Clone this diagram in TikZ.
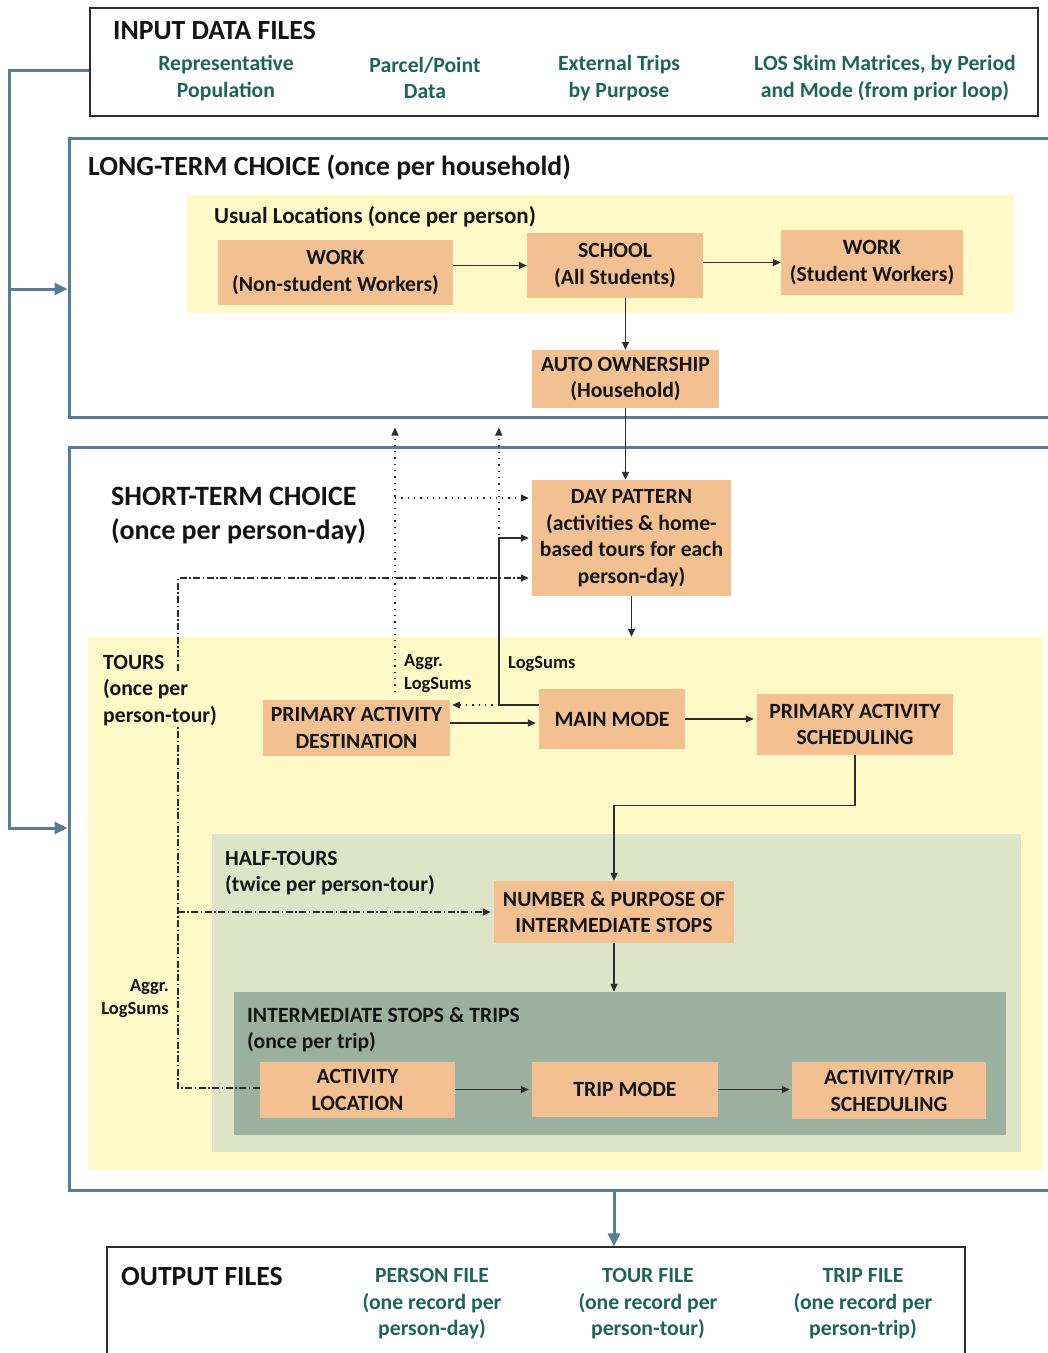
\documentclass[tikz,border=0pt]{standalone}
\usepackage{fontspec}
\setmainfont{Carlito}
\usetikzlibrary{arrows.meta,calc}
\definecolor{obox}{RGB}{243,192,145}
\definecolor{ybg}{RGB}{255,249,200}
\definecolor{hgreen}{RGB}{221,228,200}
\definecolor{igreen}{RGB}{155,176,158}
\definecolor{steel}{RGB}{88,125,148}
\definecolor{tealtxt}{RGB}{30,100,88}
\definecolor{txt}{RGB}{20,20,20}
\definecolor{lgray}{RGB}{45,45,45}
\begin{document}
\begin{tikzpicture}[x=1pt,y=-1pt,
  box/.style={fill=obox, inner sep=0pt, align=center, text=txt, font=\bfseries\fontsize{21.7}{26.5}\selectfont},
  region/.style={inner sep=0pt},
  ttl/.style={anchor=west, inner sep=0pt, text=txt, font=\bfseries\fontsize{27.7}{34}\selectfont},
  rtl/.style={anchor=north west, inner sep=0pt, align=left, text=txt, font=\bfseries\fontsize{21.7}{26.5}\selectfont},
  file/.style={inner sep=0pt, align=center, text=tealtxt, font=\bfseries\fontsize{21.7}{26.5}\selectfont},
  lbl/.style={inner sep=0pt, text=txt, font=\bfseries\fontsize{18.5}{23}\selectfont},
  arr/.style={draw=lgray, line width=1.4pt, -{Triangle[length=8pt,width=7pt]}},
  dotarr/.style={arr, dash pattern=on 1.3pt off 5pt},
  ddarr/.style={arr, dash pattern=on 7pt off 2.5pt on 1.5pt off 2.5pt},
  bluearr/.style={draw=steel, line width=3pt, -{Triangle[length=13pt,width=12pt]}},
  bigbox/.style={draw=steel, line width=3pt, inner sep=0pt},
  filebox/.style={draw=lgray, line width=1.2pt, fill=white, inner sep=0pt}
]
\useasboundingbox (0,0) rectangle (1048,1353);
\clip (0,0) rectangle (1048,1353);
\fill[white] (0,0) rectangle (1048,1353);

% ---------- input files ----------
\node[filebox, minimum width=948, minimum height=108] (inp) at (564,62) {};
\node[ttl] (inpt) at (113,31) {INPUT DATA FILES};
\node[file] (f1) at (226,78) {Representative\\Population};
\node[file] (f2) at (425,78) {Parcel/Point\\Data};
\node[file] (f3) at (619,78) {External Trips\\by Purpose};
\node[file] (f4) at (885,78) {LOS Skim Matrices, by Period\\and Mode (from prior loop)};

% ---------- long-term ----------
\node[bigbox, minimum width=1001, minimum height=279] (lt) at (569.5,277.5) {};
\node[ttl] (ltt) at (88,167) {LONG-TERM CHOICE (once per household)};
\node[region, fill=ybg, minimum width=827, minimum height=118] (ul) at (600.5,254) {};
\node[anchor=west, inner sep=0pt, text=txt, font=\bfseries\fontsize{23}{26}\selectfont] (ult) at (214,217) {Usual Locations (once per person)};
\node[box, minimum width=235, minimum height=65] (w1) at (335.5,272.5) {WORK\\(Non-student Workers)};
\node[box, minimum width=176, minimum height=65] (sch) at (615,265.5) {SCHOOL\\(All Students)};
\node[box, minimum width=182, minimum height=65] (w2) at (872,262.5) {WORK\\(Student Workers)};
\node[box, minimum width=187, minimum height=58] (auto) at (625.5,379) {AUTO OWNERSHIP\\(Household)};

% ---------- short-term ----------
\node[bigbox, minimum width=1001, minimum height=743] (st) at (569.5,818.5) {};
\node[anchor=north west, inner sep=0pt, align=left, text=txt, font=\bfseries\fontsize{28}{34}\selectfont] (stt) at (111,487) {SHORT-TERM CHOICE\\(once per person-day)};
\node[box, minimum width=199, minimum height=116] (day) at (631.5,538) {DAY PATTERN\\(activities \& home-\\based tours for each\\person-day)};

\node[region, fill=ybg, minimum width=955, minimum height=533] (tours) at (565.5,903.5) {};
\node[region, fill=hgreen, minimum width=809, minimum height=318] (half) at (616.5,993) {};
\node[rtl] (halft) at (225,851) {HALF-TOURS\\(twice per person-tour)};
\node[region, fill=igreen, minimum width=772, minimum height=143] (isr) at (620,1063.5) {};
\node[rtl] (isrt) at (247,1007) {INTERMEDIATE STOPS \& TRIPS\\(once per trip)};

\node[box, minimum width=187, minimum height=56] (pad) at (356.5,728) {PRIMARY ACTIVITY\\DESTINATION};
\node[box, minimum width=146, minimum height=60] (mm) at (612,719) {MAIN MODE};
\node[box, minimum width=196, minimum height=61] (pas) at (855,724.5) {PRIMARY ACTIVITY\\SCHEDULING};
\node[box, minimum width=240, minimum height=62] (nps) at (614,912) {NUMBER \& PURPOSE OF\\INTERMEDIATE STOPS};
\node[box, minimum width=195, minimum height=56] (al) at (357.5,1090) {ACTIVITY\\LOCATION};
\node[box, minimum width=186, minimum height=55] (tm) at (625,1089.5) {TRIP MODE};
\node[box, minimum width=194, minimum height=57] (ats) at (889,1090.5) {ACTIVITY/TRIP\\SCHEDULING};

% ---------- output files ----------
\node[filebox, minimum width=858, minimum height=140] (out) at (536,1317) {};
\node[ttl] (outt) at (121,1277) {OUTPUT FILES};
\node[file] (o1) at (432,1304) {PERSON FILE\\(one record per\\person-day)};
\node[file] (o2) at (648,1304) {TOUR FILE\\(one record per\\person-tour)};
\node[file] (o3) at (863,1304) {TRIP FILE\\(one record per\\person-trip)};

% ---------- labels ----------
\node[lbl, anchor=west, align=left] (ag1) at (404,674) {Aggr.\\LogSums};
\node[lbl, anchor=west] (lsl) at (508,664) {LogSums};
\node[lbl, anchor=east, align=right] (ag2) at (169,999) {Aggr.\\LogSums};

% ---------- blue connectors ----------
\draw[bluearr] ($(inp.west)+(0,8)$) -- ++(-80,0) |- ($(st.west)+(0,9.5)$);
\coordinate (fbx) at (10,289);
\draw[bluearr] (fbx) -- (fbx-|lt.west);
\coordinate (oa) at ($(st.south)+(44.5,0)$);
\draw[bluearr] (oa) -- (oa|-out.north);

% ---------- solid connectors ----------
\draw[arr] (w1.east|-sch.west) -- (sch.west);
\draw[arr] (sch.east|-w2.west) -- (w2.west);
\draw[arr] (auto.north|-sch.south) -- (auto.north);
\draw[arr] (auto.south) -- (auto.south|-day.north);
\draw[arr] (day.south) -- (day.south|-tours.north);
\draw[arr] ($(pad.east)+(0,-5)$) -- ($(mm.west)+(-3,4)$);
\draw[arr] (mm.east) -- ($(pas.west|-mm.east)+(-3,0)$);
\draw[arr] (pas.south) -- ++(0,50) -| (nps.north);
\draw[arr] (nps.south) -- (nps.south|-isr.north);
\draw[arr] (al.east|-tm.west) -- ($(tm.west)+(-3,0)$);
\draw[arr] (tm.east) -- ($(ats.west|-tm.east)+(-2,0)$);
\coordinate (ls) at ($(mm.west)+(-40,-14)$);
\draw[arr] ($(mm.west)+(0,-14)$) -- (ls) |- ($(day.west)+(-3,0)$);

% ---------- dotted connectors ----------
\draw[dotarr] (ls) -- ($(pad.east)+(2,-23)$);
\draw[dotarr] (ls) -- ($(ls|-lt.south)+(0,9)$);
\coordinate (ag) at ($(pad.north)+(38.5,-8)$);
\draw[dotarr] (ag) -- ($(ag|-lt.south)+(0,9)$);
\draw[dotarr] ($(ag|-day.west)+(0,-40)$) -- ($(day.west)+(-3,-40)$);

% ---------- dash-dot connectors ----------
\coordinate (ddx) at ($(al.west)+(-82,-2)$);
\draw[ddarr] ($(al.west)+(0,-2)$) -- (ddx) |- ($(day.west)+(-3,40)$);
\draw[ddarr] (ddx|-nps.west) -- ($(nps.west)+(-3,0)$);

% ---------- tours title (over the dash-dot line) ----------
\fill[ybg] (170,672) rectangle (222,726);
\node[rtl] (tourst) at (103,655) {TOURS\\(once per\\person-tour)};
\end{tikzpicture}
\end{document}
